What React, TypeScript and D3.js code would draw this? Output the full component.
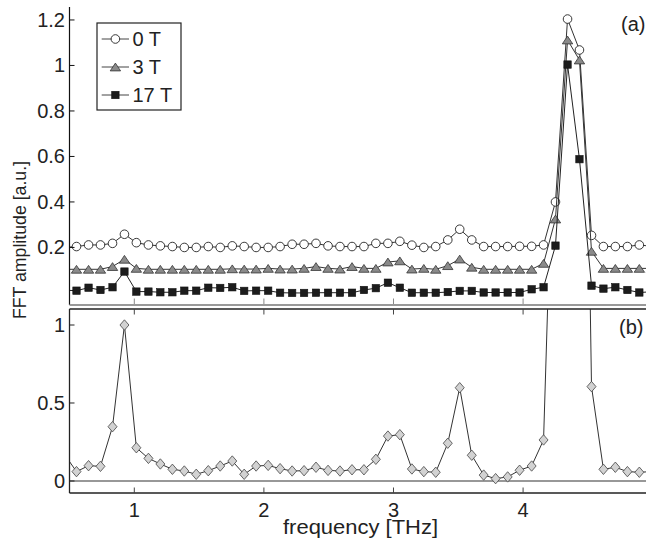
import React from "react";
import * as d3 from "d3";

// frequency grid [THz] (one point beyond each edge, clipped)
const freq = [0.462, 0.554, 0.647, 0.739, 0.832, 0.924, 1.016, 1.109, 1.201, 1.294, 1.386, 1.478, 1.571, 1.663, 1.756, 1.848, 1.940, 2.033, 2.125, 2.218, 2.310, 2.402, 2.495, 2.587, 2.680, 2.772, 2.864, 2.957, 3.049, 3.142, 3.234, 3.326, 3.419, 3.511, 3.604, 3.696, 3.788, 3.881, 3.973, 4.066, 4.158, 4.250, 4.343, 4.435, 4.528, 4.620, 4.712, 4.805, 4.897, 4.990];

const amp0T = [0.2, 0.204, 0.211, 0.211, 0.218, 0.258, 0.221, 0.211, 0.207, 0.204, 0.2, 0.2, 0.204, 0.2, 0.207, 0.204, 0.2, 0.2, 0.204, 0.214, 0.214, 0.218, 0.207, 0.204, 0.204, 0.204, 0.218, 0.218, 0.227, 0.21, 0.2, 0.204, 0.233, 0.28, 0.233, 0.204, 0.204, 0.204, 0.205, 0.205, 0.211, 0.4, 1.204, 1.068, 0.253, 0.204, 0.204, 0.204, 0.211, 0.205];
const amp3T = [0.104, 0.104, 0.104, 0.104, 0.116, 0.148, 0.108, 0.104, 0.104, 0.104, 0.104, 0.104, 0.104, 0.104, 0.106, 0.105, 0.105, 0.108, 0.105, 0.105, 0.108, 0.116, 0.108, 0.105, 0.116, 0.108, 0.108, 0.136, 0.141, 0.105, 0.108, 0.104, 0.12, 0.149, 0.113, 0.104, 0.104, 0.104, 0.104, 0.104, 0.13, 0.325, 1.112, 1.024, 0.183, 0.108, 0.108, 0.108, 0.108, 0.108];
const amp17T = [0.012, 0.010, 0.023, 0.013, 0.025, 0.094, 0.006, 0.006, 0.003, 0.003, 0.010, 0.010, 0.023, 0.022, 0.025, 0.009, 0.010, 0.010, 0.001, 0.0, 0.0, 0.001, 0.001, 0.001, 0.001, 0.013, 0.021, 0.045, 0.023, 0.001, 0.001, 0.001, 0.004, 0.009, 0.009, 0.002, 0.002, 0.002, 0.002, 0.016, 0.025, 0.208, 1.004, 0.588, 0.032, 0.019, 0.025, 0.013, 0.002, 0.005];
const ampB = [0.17, 0.06, 0.098, 0.094, 0.348, 1.0, 0.213, 0.145, 0.109, 0.075, 0.064, 0.043, 0.066, 0.096, 0.128, 0.043, 0.096, 0.1, 0.079, 0.064, 0.066, 0.088, 0.068, 0.064, 0.072, 0.072, 0.139, 0.288, 0.297, 0.077, 0.06, 0.056, 0.242, 0.598, 0.165, 0.038, 0.015, 0.026, 0.069, 0.096, 0.263, 2.76, 8.0, 5.6, 0.605, 0.075, 0.088, 0.06, 0.056, 0.06];

const legendLabels = ["0 T", "3 T", "17 T"];
const xTicks = [1, 2, 3, 4];
const yTicksA = [0.2, 0.4, 0.6, 0.8, 1, 1.2];
const yTicksB = [0, 0.5, 1];

const W = 646, H = 541;
const L = 69.5, R = 646.2;
const FONT = "'Liberation Sans', Arial, Helvetica, sans-serif";

const x = d3.scaleLinear().domain([0.5, 4.95]).range([L, R]);
const yA = d3.scaleLinear().domain([-0.053, 1.257]).range([305, 7]);
const yB = d3.scaleLinear().domain([-0.077, 1.1026]).range([493, 309]);

type Kind = "circle" | "tri" | "sq" | "dia";

function marker(kind: Kind, cx: number, cy: number, key: any) {
  if (kind === "circle")
    return <circle key={key} cx={cx} cy={cy} r={4.3} fill="#fff" stroke="#222" strokeWidth={0.9} />;
  if (kind === "tri")
    return <path key={key} d={`M${cx - 5.2},${cy + 3.9}L${cx + 5.2},${cy + 3.9}L${cx},${cy - 3.9}Z`} fill="#8a8a8a" stroke="#333" strokeWidth={0.8} />;
  if (kind === "sq")
    return <rect key={key} x={cx - 3.7} y={cy - 3.7} width={7.4} height={7.4} fill="#1c1c1c" stroke="#111" strokeWidth={0.6} />;
  return <path key={key} d={`M${cx},${cy - 5.2}L${cx + 4.5},${cy}L${cx},${cy + 5.2}L${cx - 4.5},${cy}Z`} fill="#d2d2d2" stroke="#444" strokeWidth={0.8} />;
}

function Series({ vals, y, kind, color }: { vals: number[]; y: d3.ScaleLinear<number, number>; kind: Kind; color: string }) {
  const line = d3.line<number>().x((_, i) => x(freq[i])).y((v) => y(v));
  return (
    <g>
      <path d={line(vals) || ""} fill="none" stroke={color} strokeWidth={1} />
      {vals.map((v, i) => marker(kind, x(freq[i]), y(v), i))}
    </g>
  );
}

export default function App() {
  const kinds: Kind[] = ["circle", "tri", "sq"];
  return (
    <div style={{ position: "fixed", left: 0, top: 0 }}>
      <svg width={W} height={H} style={{ display: "block", background: "#fff" }} fontFamily={FONT}>
        <defs>
          <clipPath id="clipA"><rect x={L} y={7} width={R - L + 10} height={298} /></clipPath>
          <clipPath id="clipB"><rect x={L} y={309} width={R - L + 10} height={184} /></clipPath>
        </defs>

        {/* ---------- panel (a) ---------- */}
        <g clipPath="url(#clipA)">
          <Series vals={amp0T} y={yA} kind="circle" color="#333" />
          <Series vals={amp3T} y={yA} kind="tri" color="#333" />
          <Series vals={amp17T} y={yA} kind="sq" color="#222" />
        </g>
        <line x1={L} x2={L} y1={7} y2={305} stroke="#111" strokeWidth={1.2} />
        <line x1={L} x2={W} y1={305} y2={305} stroke="#999" strokeWidth={2} />
        {yTicksA.map((t) => (
          <g key={t}>
            <line x1={L} x2={L + 5} y1={yA(t)} y2={yA(t)} stroke="#111" strokeWidth={1} />
            <text x={65} y={yA(t)} dy="0.35em" textAnchor="end" fontSize={20} fill="#222">{String(t)}</text>
          </g>
        ))}
        {xTicks.map((t) => (
          <line key={t} x1={x(t)} x2={x(t)} y1={304} y2={298.5} stroke="#888" strokeWidth={1} />
        ))}
        <text x={621} y={31} fontSize={20} fill="#222">(a)</text>

        {/* legend */}
        <rect x={97} y={23} width={84} height={87} fill="#fff" stroke="#222" strokeWidth={1.2} />
        {legendLabels.map((lab, i) => {
          const cy = 39 + i * 28;
          return (
            <g key={lab}>
              <line x1={101.7} x2={129} y1={cy} y2={cy} stroke="#444" strokeWidth={1} />
              {marker(kinds[i], 115.4, cy, "m")}
              <text x={132.5} y={cy} dy="0.36em" fontSize={20} fill="#222">{lab}</text>
            </g>
          );
        })}

        {/* ---------- panel (b) ---------- */}
        <line x1={L} x2={W} y1={yB(0)} y2={yB(0)} stroke="#333" strokeWidth={1.2} />
        <g clipPath="url(#clipB)">
          <Series vals={ampB} y={yB} kind="dia" color="#333" />
        </g>
        <line x1={L} x2={W} y1={309} y2={309} stroke="#222" strokeWidth={1.3} />
        <line x1={L} x2={W} y1={493} y2={493} stroke="#222" strokeWidth={1.3} />
        <line x1={L} x2={L} y1={309} y2={493} stroke="#222" strokeWidth={1.3} />
        {yTicksB.map((t) => (
          <g key={t}>
            <line x1={L} x2={L + 5} y1={yB(t)} y2={yB(t)} stroke="#222" strokeWidth={1} />
            <text x={65} y={yB(t)} dy="0.35em" textAnchor="end" fontSize={20} fill="#222">{String(t)}</text>
          </g>
        ))}
        {xTicks.map((t) => (
          <g key={t}>
            <line x1={x(t)} x2={x(t)} y1={309} y2={314.5} stroke="#444" strokeWidth={1} />
            <line x1={x(t)} x2={x(t)} y1={493} y2={487.5} stroke="#444" strokeWidth={1} />
            <text x={x(t)} y={517} textAnchor="middle" fontSize={20} fill="#222">{String(t)}</text>
          </g>
        ))}
        <text x={619} y={334} fontSize={20} fill="#222">(b)</text>

        {/* axis labels */}
        <text x={360.5} y={534} textAnchor="middle" fontSize={20} fill="#222" textLength={155} lengthAdjust="spacingAndGlyphs">frequency [THz]</text>
        <text transform="translate(26,240) rotate(-90)" textAnchor="middle" fontSize={19} fill="#222" textLength={158} lengthAdjust="spacingAndGlyphs">FFT amplitude [a.u.]</text>
      </svg>
    </div>
  );
}
